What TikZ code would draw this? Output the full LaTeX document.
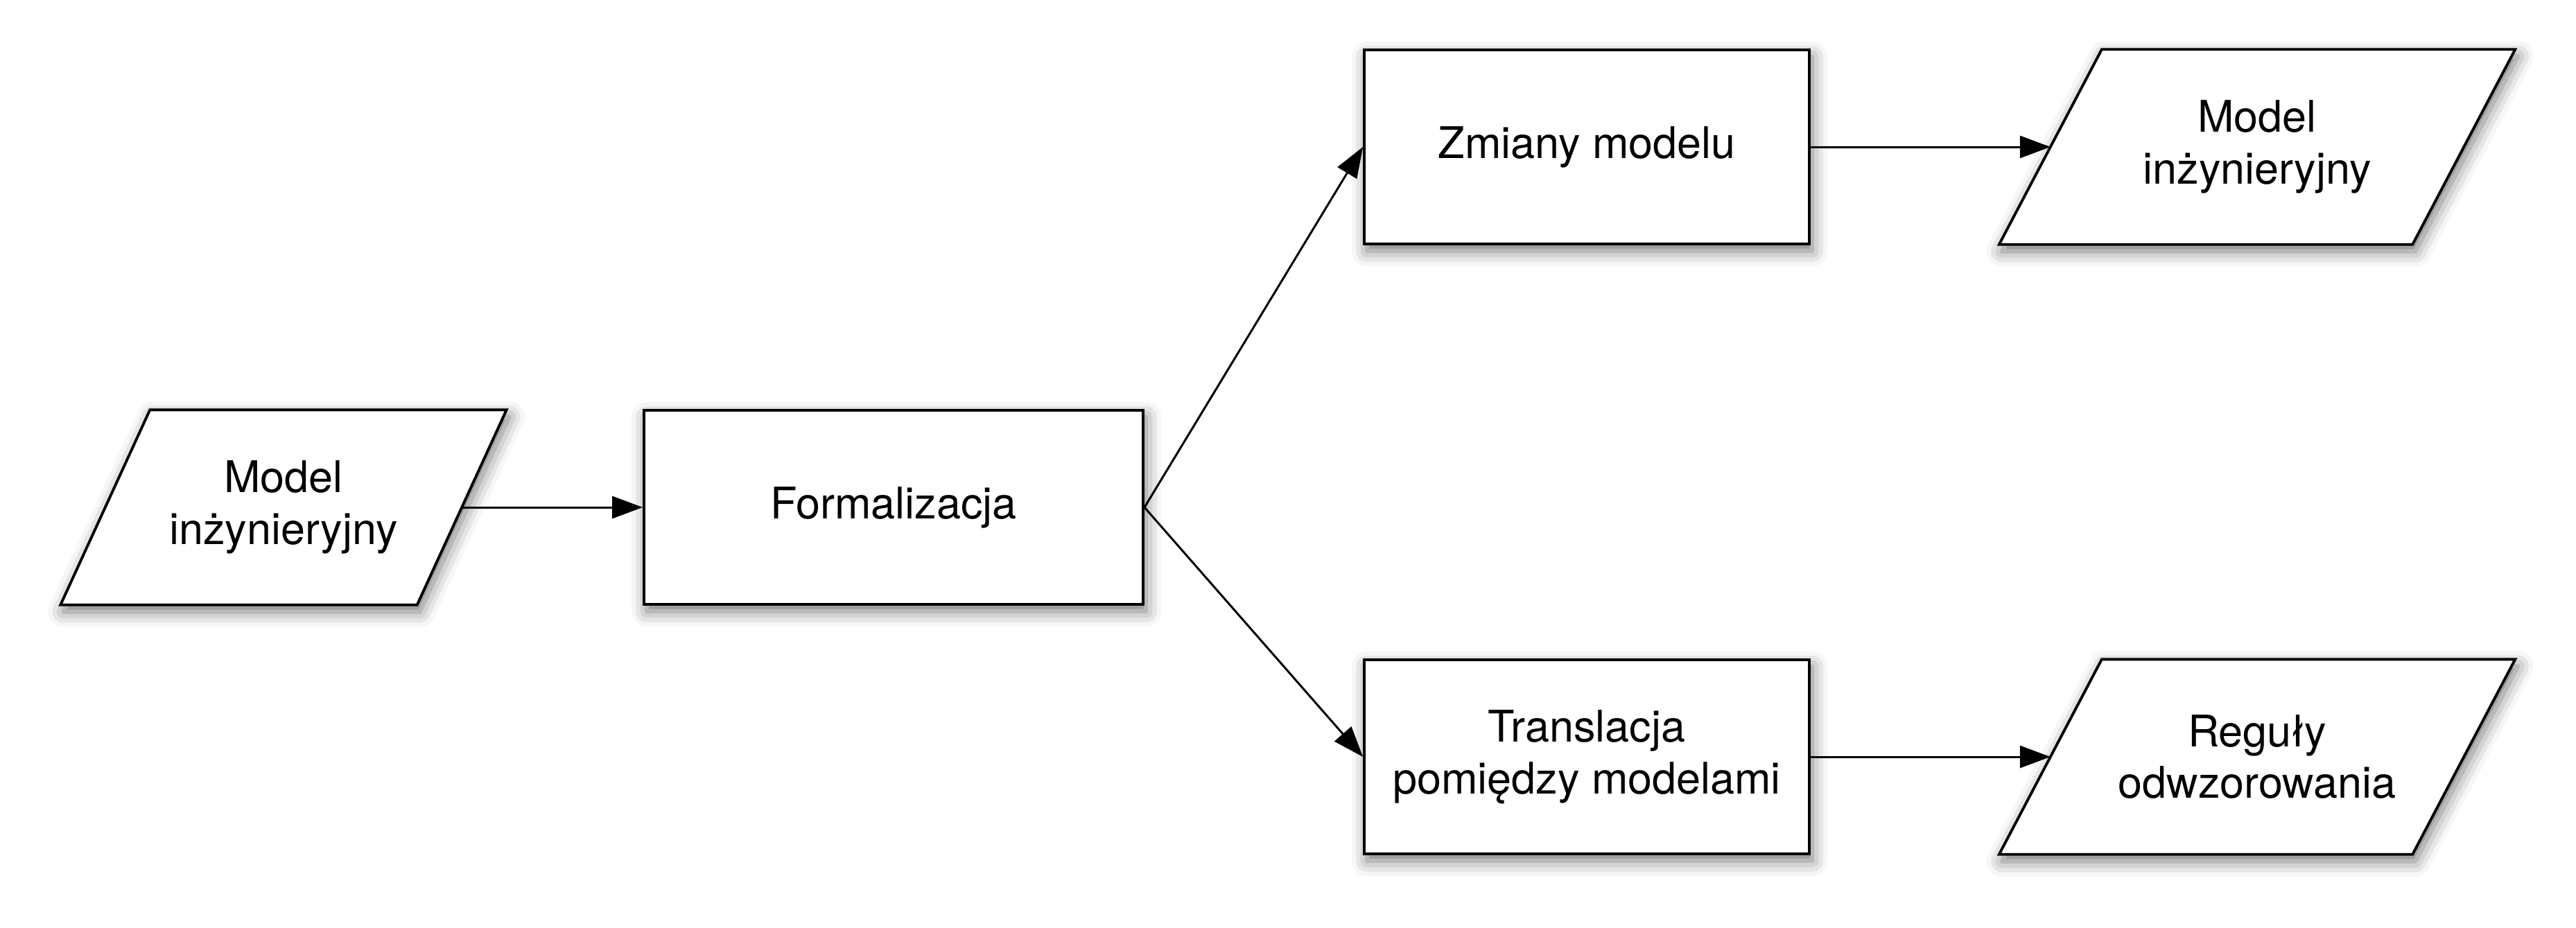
\documentclass[tikz,border=0pt]{standalone}
\usepackage{fontspec}
\setmainfont{TeX Gyre Heros}
\usetikzlibrary{arrows.meta,shadows.blur,backgrounds}

\begin{document}
\begin{tikzpicture}[font=\fontsize{17.9}{21.3}\selectfont,
    boxshadow/.style={blur shadow={shadow xshift=0.04cm,shadow yshift=-0.1cm,shadow blur radius=0.22cm,shadow opacity=55}},
    procbox/.style={draw,line width=1.1pt,fill=white,minimum height=2.8cm,inner sep=0pt,align=center,boxshadow},
    databox/.style={minimum height=2.8cm,inner sep=0pt,align=center},
    dataframe/.style={draw,line width=1.1pt,fill=white,boxshadow},
    flow/.style={-{Triangle[length=0.44cm,width=0.32cm]},line width=0.85pt}]
  \useasboundingbox (0,0) rectangle (37.16,-13.38);
  % wejscie
  \node[databox,minimum width=5.13cm] (modelIn) at (4.09,-7.32) {Model\\inżynieryjny};
  \node[procbox,minimum width=7.2cm] (formal) at (12.89,-7.32) {Formalizacja};
  % dwie galezie
  \node[procbox,minimum width=6.42cm] (zmiany) at (22.89,-2.12) {Zmiany modelu};
  \node[procbox,minimum width=6.42cm] (transl) at (22.89,-10.92) {Translacja\\pomiędzy modelami};
  % wyjscia
  \node[databox,minimum width=5.95cm] (modelOut) at (32.56,-2.12) {Model\\inżynieryjny};
  \node[databox,minimum width=5.95cm] (reguly) at (32.56,-10.92) {Reguły\\odwzorowania};
  % ramki danych (rownolegloboki)
  \begin{scope}[on background layer]
    \foreach \n/\s in {modelIn/0.645,modelOut/0.74,reguly/0.74}
      \draw[dataframe] ([xshift=\s cm]\n.north west) -- ([xshift=\s cm]\n.north east)
        -- ([xshift=-\s cm]\n.south east) -- ([xshift=-\s cm]\n.south west) -- cycle;
  \end{scope}
  \draw[flow] (modelIn.east) -- (formal.west);
  \draw[flow] (formal.east) -- (zmiany.west);
  \draw[flow] (formal.east) -- (transl.west);
  \draw[flow] (zmiany.east) -- (modelOut.west);
  \draw[flow] (transl.east) -- (reguly.west);
\end{tikzpicture}
\end{document}
